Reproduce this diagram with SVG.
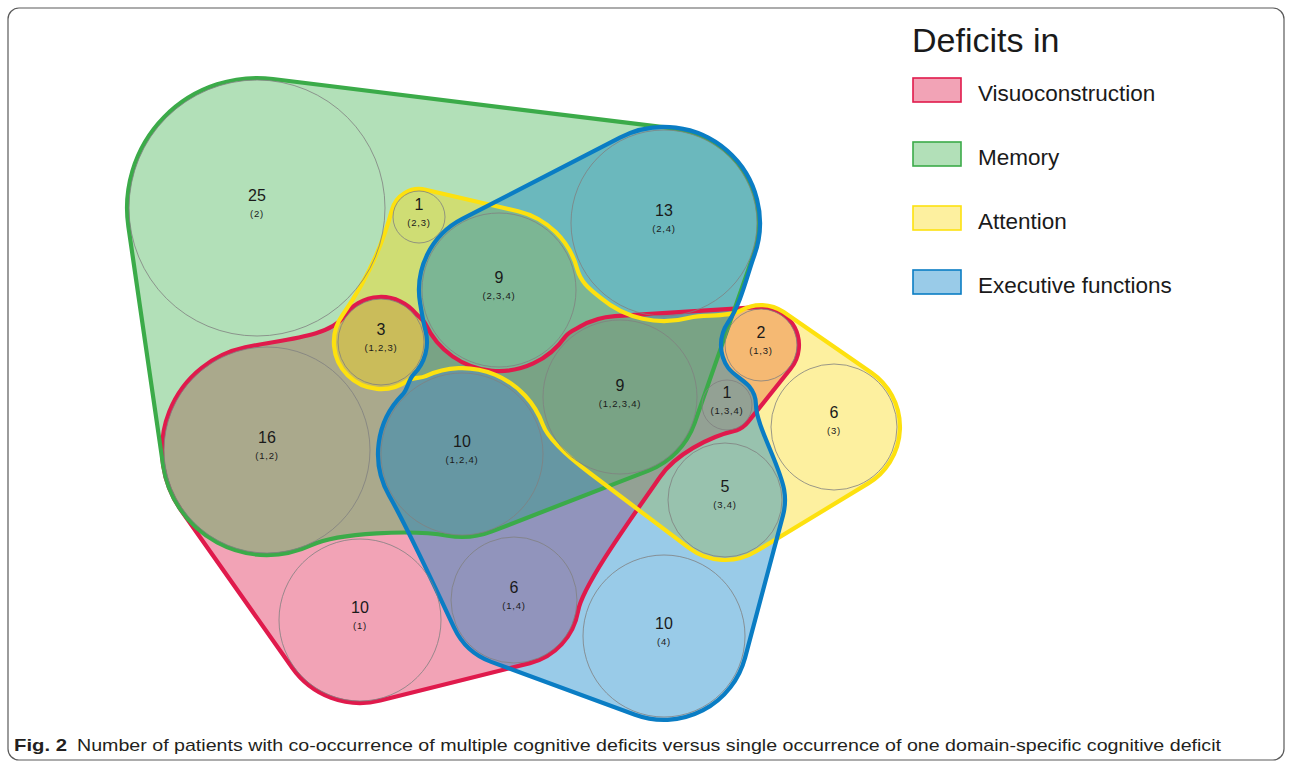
<svg xmlns="http://www.w3.org/2000/svg" width="1290" height="767" viewBox="0 0 1290 767">
<style>
.fr{fill:#de1948;fill-opacity:.4}
.fg{fill:#3eb14d;fill-opacity:.4}
.fy{fill:#fad90f;fill-opacity:.4}
.fb{fill:#007dc5;fill-opacity:.4}
.edge{fill:none;stroke-width:4.2;stroke-linejoin:round}
.sr{stroke:#e01a4c}
.sg{stroke:#3bab49}
.sy{stroke:#fde10f}
.sb{stroke:#0a7dc4}
.c{fill:none;stroke:#808080;stroke-width:0.8}
.n{font-family:"Liberation Sans",Arial,sans-serif;font-size:16px;text-anchor:middle;fill:#1a1a1a}
.s{font-family:"Liberation Sans",Arial,sans-serif;font-size:9.5px;text-anchor:middle;fill:#1a1a1a;letter-spacing:0.8px}
.lg{font-family:"Liberation Sans",Arial,sans-serif;font-size:22.5px;fill:#1a1a1a}
.box{stroke-width:1.6}
.cap{font-family:"Liberation Sans",Arial,sans-serif;font-size:17px;fill:#231f20}
</style>
<defs>
<path id="pV" d="M181.2,510.5 A105,105 0 0 1 245.2,347.3 C284.3,339 329.8,336.7 344.1,316.2 A45,45 0 0 1 415.5,313.1 C418.7,316.9 423.5,319.7 425.6,324.2 A81,81 0 0 0 565.4,336.5 C568.8,331.6 574.3,329.9 579.5,326.9 A81,81 0 0 1 614.9,316.2 L758.6,307.1 A38,38 0 0 1 790.6,368.8 L748.1,421.9 A27,27 0 0 1 736.2,430.4 C708,437 675,455 660,477 C625,527 582.4,586.7 578,611.3 A65,65 0 0 1 529.9,663.1 L380.3,700.5 A83,83 0 0 1 292.2,667.8 Z"/>
<path id="pM" d="M272.9,79 L675.6,128.7 A95,95 0 0 1 753.7,254.4 L694.6,423.1 A79,79 0 0 1 648.6,470.6 L492,531.4 A83,83 0 0 1 447.6,535.7 C413.1,529.6 338.6,532.5 311.4,545.2 A105,105 0 0 1 163.1,465.2 L128.4,226.8 A130,130 0 0 1 272.9,79 Z"/>
<path id="pA" d="M425.6,189.8 L518.2,211.3 A81,81 0 0 1 577.2,269 C581.1,283.5 591.8,290.4 601,298.1 A98,98 0 0 0 689.4,317.7 C703.9,313.8 728,317.9 741,310.4 A40,40 0 0 1 783.7,312.1 L871.5,372.7 A66,66 0 0 1 868.2,483.4 L756.1,551.3 A60,60 0 0 1 688.9,547.9 L590,473.3 C575.6,462.5 549,441.5 542.8,424.6 A86,86 0 0 0 425.7,376.1 C420.3,378.6 412.9,377.1 408,380.5 A47,47 0 0 1 342.5,315 C365.5,282.2 381.6,248.4 392,209.8 A28,28 0 0 1 425.6,189.8 Z"/>
<path id="pE" d="M462.3,218.9 L619.9,137.7 A96,96 0 0 1 754.2,255.8 C746.7,276.5 740.8,304.1 728.2,322.1 A40,40 0 0 0 728.2,367.9 C732.8,374.4 744.1,380.3 749.2,386.4 A29,29 0 0 1 756,405 C756,425 779.8,465 784.1,489.6 A60,60 0 0 1 783,515.4 L745.1,657.6 A84,84 0 0 1 635,714.8 L491.2,661.9 A66,66 0 0 1 454.2,627.9 C443.6,605.3 406.8,526.3 389.3,496 A84,84 0 0 1 402.6,394.6 C407.6,389.6 408.5,379.5 413.5,374.5 A46,46 0 0 0 425.4,330.1 C423.3,322.4 421.6,311.8 420.2,303.9 A80,80 0 0 1 462.3,218.9 Z"/>
</defs>
<rect x="8" y="8" width="1276" height="752" rx="11" fill="#fff" stroke="#5a5a5a" stroke-width="1.2"/>
<g id="set-fills">
<use href="#pV" class="fr"/>
<use href="#pM" class="fg"/>
<use href="#pA" class="fy"/>
<use href="#pE" class="fb"/>
</g>
<g id="set-outlines">
<use href="#pV" class="edge sr"/>
<use href="#pM" class="edge sg"/>
<use href="#pA" class="edge sy"/>
<use href="#pE" class="edge sb"/>
</g>
<g id="n-2"><circle class="c" cx="257" cy="208" r="128"/><text class="n" x="257" y="201">25</text><text class="s" x="257" y="217">(2)</text></g>
<g id="n-23"><circle class="c" cx="419" cy="217" r="26"/><text class="n" x="419" y="210">1</text><text class="s" x="419" y="226">(2,3)</text></g>
<g id="n-234"><circle class="c" cx="499" cy="290" r="77"/><text class="n" x="499" y="283">9</text><text class="s" x="499" y="299">(2,3,4)</text></g>
<g id="n-24"><circle class="c" cx="664" cy="223" r="93"/><text class="n" x="664" y="216">13</text><text class="s" x="664" y="232">(2,4)</text></g>
<g id="n-123"><circle class="c" cx="381" cy="342" r="43"/><text class="n" x="381" y="335">3</text><text class="s" x="381" y="351">(1,2,3)</text></g>
<g id="n-12"><circle class="c" cx="267" cy="450" r="103"/><text class="n" x="267" y="443">16</text><text class="s" x="267" y="459">(1,2)</text></g>
<g id="n-124"><circle class="c" cx="462" cy="454" r="81"/><text class="n" x="462" y="447">10</text><text class="s" x="462" y="463">(1,2,4)</text></g>
<g id="n-1234"><circle class="c" cx="620" cy="397" r="77"/><text class="n" x="620" y="391">9</text><text class="s" x="620" y="407">(1,2,3,4)</text></g>
<g id="n-13"><circle class="c" cx="761" cy="345" r="36"/><text class="n" x="761" y="338">2</text><text class="s" x="761" y="354">(1,3)</text></g>
<g id="n-134"><circle class="c" cx="727" cy="405" r="25"/><text class="n" x="727" y="398">1</text><text class="s" x="727" y="414">(1,3,4)</text></g>
<g id="n-3"><circle class="c" cx="834" cy="427" r="63"/><text class="n" x="834" y="418">6</text><text class="s" x="834" y="434">(3)</text></g>
<g id="n-34"><circle class="c" cx="725" cy="500" r="57"/><text class="n" x="725" y="492">5</text><text class="s" x="725" y="508">(3,4)</text></g>
<g id="n-1"><circle class="c" cx="360" cy="620" r="81"/><text class="n" x="360" y="613">10</text><text class="s" x="360" y="629">(1)</text></g>
<g id="n-14"><circle class="c" cx="514" cy="600" r="63"/><text class="n" x="514" y="593">6</text><text class="s" x="514" y="609">(1,4)</text></g>
<g id="n-4"><circle class="c" cx="664" cy="636" r="81"/><text class="n" x="664" y="629">10</text><text class="s" x="664" y="645">(4)</text></g>
<g id="legend">
<text x="912" y="52" font-family="'Liberation Sans',Arial,sans-serif" font-size="34" fill="#1a1a1a">Deficits in</text>
<rect class="box fr" x="913" y="78" width="48" height="24"/><rect class="box sr" x="913" y="78" width="48" height="24" fill="none"/>
<text class="lg" x="978" y="101">Visuoconstruction</text>
<rect class="box fg" x="913" y="142" width="48" height="24"/><rect class="box sg" x="913" y="142" width="48" height="24" fill="none"/>
<text class="lg" x="978" y="165">Memory</text>
<rect class="box fy" x="913" y="206" width="48" height="24"/><rect class="box sy" x="913" y="206" width="48" height="24" fill="none"/>
<text class="lg" x="978" y="229">Attention</text>
<rect class="box fb" x="913" y="270" width="48" height="24"/><rect class="box sb" x="913" y="270" width="48" height="24" fill="none"/>
<text class="lg" x="978" y="293">Executive functions</text>
</g>
<g id="caption">
<text class="cap" x="14" y="751" font-weight="bold" textLength="53" lengthAdjust="spacingAndGlyphs">Fig. 2</text>
<text class="cap" x="77" y="751" textLength="1144" lengthAdjust="spacingAndGlyphs">Number of patients with co-occurrence of multiple cognitive deficits versus single occurrence of one domain-specific cognitive deficit</text>
</g>
</svg>
